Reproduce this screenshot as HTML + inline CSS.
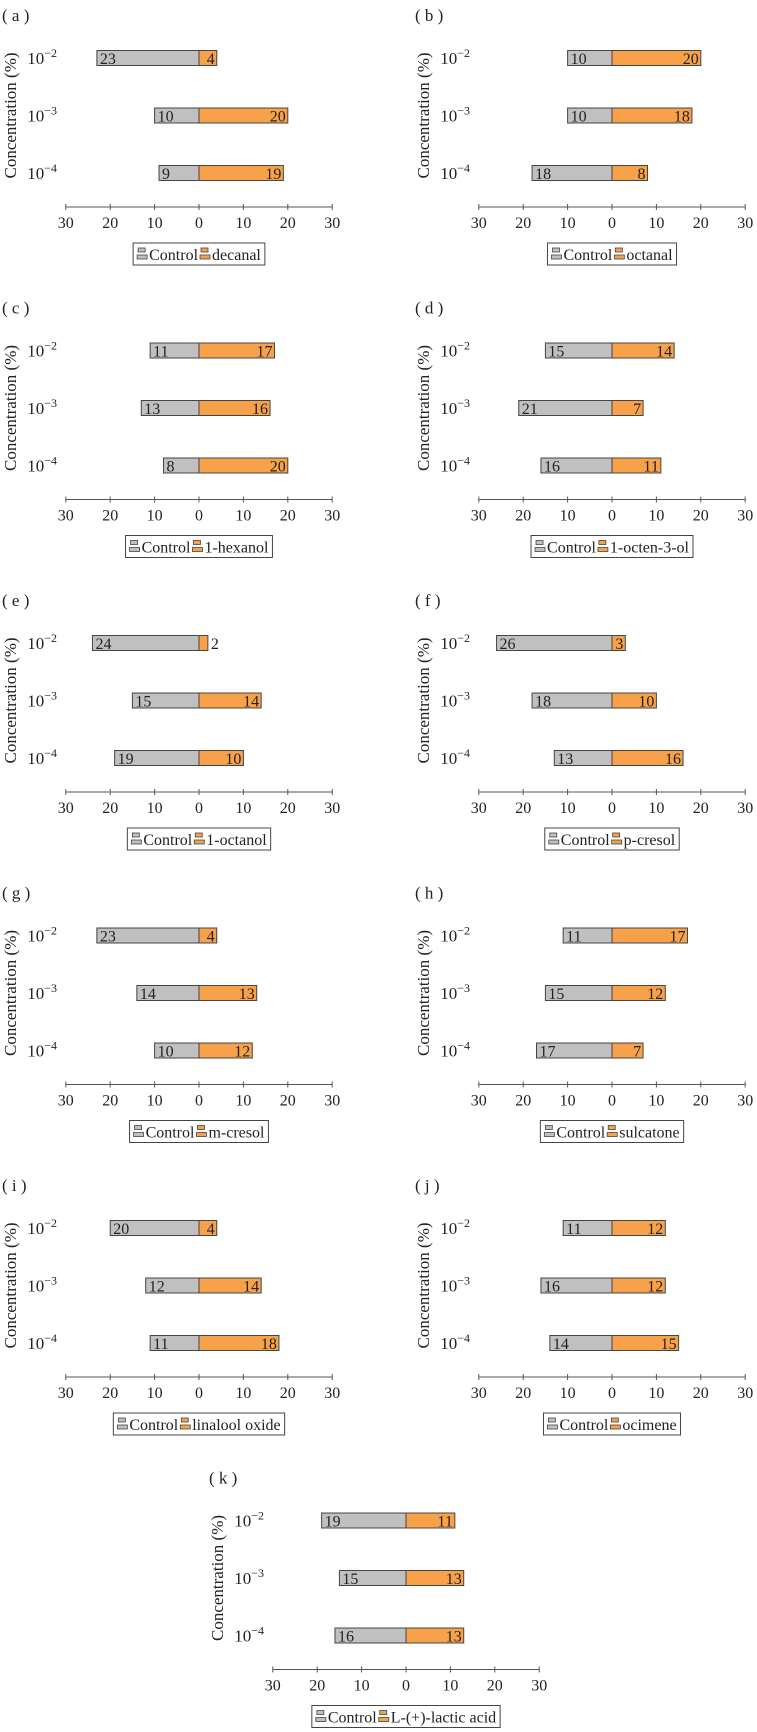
<!DOCTYPE html>
<html><head><meta charset="utf-8"><style>
html,body{margin:0;padding:0;background:#fff}
svg{display:block;font-family:"Liberation Serif",serif}
</style></head><body>
<svg id="fig" width="757" height="1732" viewBox="0 0 757 1732" xmlns="http://www.w3.org/2000/svg"></svg>
<script>
const panelLetters = ['a','b','c','d','e','f','g','h','i','j','k'];
const treatments = ['decanal','octanal','1-hexanol','1-octen-3-ol','1-octanol','p-cresol','m-cresol','sulcatone','linalool oxide','ocimene','L-(+)-lactic acid'];
const controlValues = [[23,10,9],[10,10,18],[11,13,8],[15,21,16],[24,15,19],[26,18,13],[23,14,10],[11,15,17],[20,12,11],[11,16,14],[19,15,16]];
const treatmentValues = [[4,20,19],[20,18,8],[17,16,20],[14,7,11],[2,14,10],[3,10,16],[4,13,12],[17,12,7],[4,14,18],[12,12,15],[11,13,13]];
const categoryExps = ['2','3','4'];
const tickValues = [-30,-20,-10,0,10,20,30];

const NS='http://www.w3.org/2000/svg';
const svg=document.getElementById('fig');
function mk(tag,attrs,parent){const e=document.createElementNS(NS,tag);for(const k in attrs)e.setAttribute(k,attrs[k]);(parent||svg).appendChild(e);return e;}
const S=4.44;
const GRAY='#c0c0c0', ORANGE='#f7a24a', STROKE='#444';

panelLetters.forEach((L,p)=>{
  const col = p===10 ? 2 : p%2;
  const row = Math.floor(p/2);
  const ox = col===0 ? 199 : (col===1 ? 612 : 406);
  const oy = row*292.5;
  const xs = v => ox + v*S;
  const ys = i => oy + 58 + i*57.5;
  const g = mk('g',{});
  
  
  const lab = mk('text',{x:ox-197,y:oy+21,'font-size':17,fill:'#222'},g);
  lab.textContent='( '+L+' )';
  
  
  const yt = mk('text',{x:0,y:0,'font-size':17,fill:'#222','text-anchor':'middle',transform:`translate(${ox-183},${oy+115.5}) rotate(-90)`},g);
  yt.textContent='Concentration (%)';
  
  
  categoryExps.forEach((ex,i)=>{
    const t = mk('text',{x:ox-142,y:ys(i)+6,'font-size':17,fill:'#222','text-anchor':'end'},g);
    
    
    const a=mk('tspan',{},t); a.textContent='10';
    const b=mk('tspan',{dy:-7,'font-size':12},t); b.textContent='\u2212'+ex;
    const c=controlValues[p][i], tv=treatmentValues[p][i];
    const rc=mk('rect',{x:xs(-c),y:ys(i)-7.5,width:c*S,height:15,fill:GRAY,stroke:STROKE,'stroke-width':1},g);
    
    
    const rt=mk('rect',{x:xs(0),y:ys(i)-7.5,width:tv*S,height:15,fill:ORANGE,stroke:STROKE,'stroke-width':1},g);
    
    
    const lc=mk('text',{x:xs(-c)+3,y:ys(i)+6,'font-size':16,fill:'#222'},g);
    lc.textContent=c;
    
    
    const inside = tv>=3;
    const lt=mk('text',{x:inside?xs(tv)-2:xs(tv)+3,y:ys(i)+6,'font-size':16,fill:'#222','text-anchor':inside?'end':'start'},g);
    lt.textContent=tv;
    
    
  });
  const ay=oy+207;
  const ax=mk('line',{x1:xs(-30),x2:xs(30),y1:ay,y2:ay,stroke:'#555','stroke-width':1},g);
  
  
  tickValues.forEach(v=>{
    mk('line',{x1:xs(v),x2:xs(v),y1:ay-3,y2:ay+3,stroke:'#555','stroke-width':1},g);
    const t=mk('text',{x:xs(v),y:ay+21,'font-size':16,fill:'#222','text-anchor':'middle'},g);
    t.textContent=Math.abs(v);
    
    
  });
  // legend
  const lg=mk('g',{},g);
  
  
  const box=mk('rect',{x:0,y:oy+243,width:10,height:22,fill:'#fff',stroke:'#444','stroke-width':1},lg);
  let x=0;
  const items=[['Control',GRAY],[treatments[p],ORANGE]];
  const parts=[];
  items.forEach(([name,col])=>{
    const ic=mk('g',{},lg);
    
    
    const t=mk('text',{x:0,y:oy+260,'font-size':16,fill:'#222'},lg);
    t.textContent=name;
    
    
    parts.push([ic,t,col]);
  });
  let total=4;
  parts.forEach(([ic,t])=>{ total += 10+2+t.getComputedTextLength()+2; });
  total+=2;
  let cx=ox-total/2;
  box.setAttribute('x',cx); box.setAttribute('width',total);
  cx+=4;
  parts.forEach(([ic,t,col])=>{
    mk('rect',{x:cx+1,y:oy+248,width:7,height:4,fill:col,stroke:'#444','stroke-width':0.8},ic);
    mk('rect',{x:cx,y:oy+255,width:10,height:4,fill:col,stroke:'#444','stroke-width':0.8},ic);
    cx+=12;
    t.setAttribute('x',cx);
    cx+=t.getComputedTextLength()+2;
  });
});
</script>
</body></html>
